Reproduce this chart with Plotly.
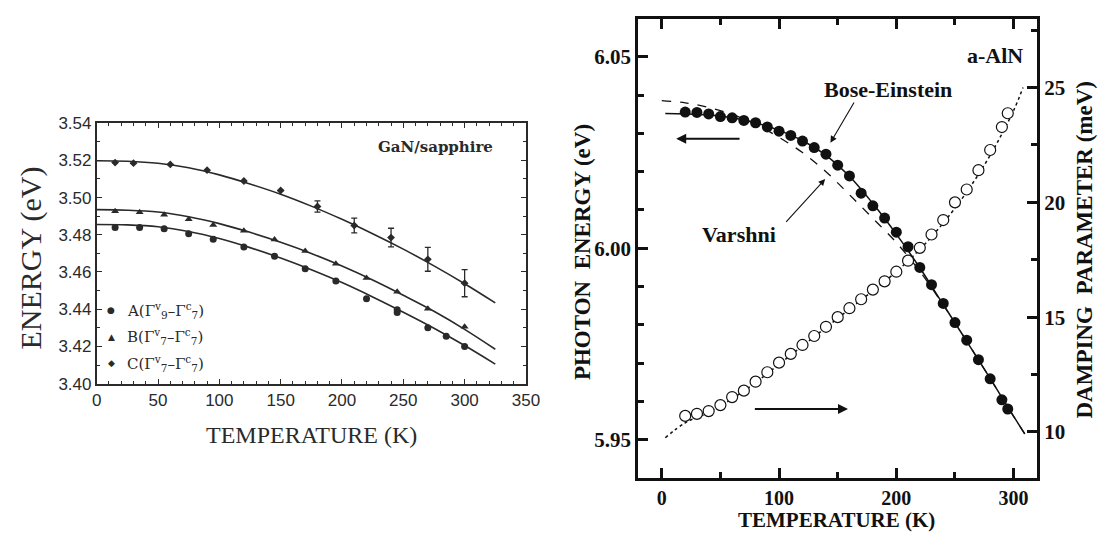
import plotly.graph_objects as go

# ---------------- GaN/sapphire exciton energies (left panel) ----------------
T_A = [15, 35, 55, 75, 95, 120, 145, 170, 195, 220, 245, 245, 270, 285, 300]
E_A = [3.4839, 3.4839, 3.4832, 3.4805, 3.4776, 3.4735, 3.4684, 3.4617, 3.4552,
       3.4456, 3.4397, 3.4382, 3.4301, 3.4255, 3.4200]

T_B = [15, 35, 55, 75, 95, 120, 145, 170, 195, 220, 245, 270, 300]
E_B = [3.4926, 3.4921, 3.4908, 3.4884, 3.4853, 3.4822, 3.4774, 3.4713, 3.4644,
       3.4568, 3.4494, 3.4402, 3.4306]

T_C = [15, 30, 60, 90, 120, 150, 180, 210, 240, 270, 300]
E_C = [3.5188, 3.5185, 3.5178, 3.5147, 3.5089, 3.5038, 3.4952, 3.4850, 3.4785,
       3.4668, 3.4540]
ERR_C = [0, 0, 0, 0, 0, 0, 0.0030, 0.0040, 0.0050, 0.0064, 0.0073]

# fitted curves
T_FIT = [0, 25, 50, 75, 100, 125, 150, 175, 200, 225, 250, 275, 300, 325]
FIT_A = [3.4855, 3.4853, 3.4843, 3.4818, 3.4780, 3.4731, 3.4675, 3.4612, 3.4543,
         3.4466, 3.4384, 3.4298, 3.4205, 3.4105]
FIT_B = [3.4935, 3.4932, 3.4922, 3.4897, 3.4860, 3.4813, 3.4760, 3.4700, 3.4632,
         3.4557, 3.4475, 3.4389, 3.4292, 3.4185]
FIT_C = [3.5198, 3.5195, 3.5184, 3.5160, 3.5122, 3.5073, 3.5018, 3.4954, 3.4883,
         3.4806, 3.4723, 3.4633, 3.4537, 3.4434]

LEGEND_LABELS = ["A(Γ<sup>v</sup><sub>9</sub>–Γ<sup>c</sup><sub>7</sub>)",
                 "B(Γ<sup>v</sup><sub>7</sub>–Γ<sup>c</sup><sub>7</sub>)",
                 "C(Γ<sup>v</sup><sub>7</sub>–Γ<sup>c</sup><sub>7</sub>)"]
LEGEND_SYMBOLS = ["●", "▲", "◆"]
LEGEND_E = [3.4395, 3.4251, 3.4109]

# ---------------- a-AlN photon energy and damping (right panel) ----------------
T_ALN = [20, 30, 40, 50, 60, 70, 80, 90, 100, 110, 120, 130, 140, 150, 160, 170,
         180, 190, 200, 210, 220, 230, 240, 250, 260, 270, 280, 290, 295]
E_ALN = [6.0356, 6.0355, 6.0351, 6.0344, 6.0341, 6.0334, 6.0328, 6.0317, 6.0306,
         6.0295, 6.0280, 6.0263, 6.0246, 6.0217, 6.0189, 6.0144, 6.0111, 6.0079,
         6.0042, 6.0004, 5.9950, 5.9905, 5.9856, 5.9806, 5.9760, 5.9709, 5.9659,
         5.9604, 5.9580]
GAMMA_ALN = [10.70, 10.79, 10.91, 11.17, 11.52, 11.80, 12.19, 12.60, 13.02, 13.40,
             13.79, 14.18, 14.58, 15.00, 15.39, 15.78, 16.20, 16.56, 16.98, 17.46,
             18.02, 18.60, 19.23, 20.00, 20.56, 21.40, 22.28, 23.28, 23.88]

T_BE = [3, 20, 40, 60, 80, 100, 120, 140, 160, 180, 200, 220, 240, 260, 280, 300, 309.5]
E_BE = [6.0352, 6.0351, 6.0348, 6.0341, 6.0328, 6.0308, 6.0281, 6.0243, 6.0188,
        6.0117, 6.0037, 5.9949, 5.9853, 5.9757, 5.9660, 5.9561, 5.9515]

T_VAR = [0, 20, 40, 60, 80, 100, 120, 140, 160, 180, 200, 220, 240, 260, 280, 300, 309.5]
E_VAR = [6.0386, 6.0380, 6.0368, 6.0350, 6.0324, 6.0290, 6.0250, 6.0200, 6.0140,
         6.0078, 6.0015, 5.9940, 5.9852, 5.9757, 5.9660, 5.9561, 5.9515]

T_GFIT = [3, 20, 40, 60, 80, 100, 120, 140, 160, 180, 200, 220, 240, 260, 280, 300, 308]
G_FIT = [9.75, 10.40, 10.85, 11.45, 12.15, 12.95, 13.75, 14.55, 15.35, 16.15,
         16.98, 17.95, 19.10, 20.45, 22.05, 24.00, 25.00]

W, H = 1113, 540
LEFT_INK = "#2a2a2a"
RIGHT_INK = "#111111"
SERIF = "Liberation Serif"


def px_x(p):
    return p / W


def px_y(p):
    return 1 - p / H


fig = go.Figure()

# ---- left panel traces ----
for t, e in ((T_FIT, FIT_A), (T_FIT, FIT_B), (T_FIT, FIT_C)):
    fig.add_trace(go.Scatter(x=t, y=e, mode="lines", line=dict(color=LEFT_INK, width=1.6, shape="spline"),
                             xaxis="x", yaxis="y", showlegend=False, hoverinfo="skip"))

fig.add_trace(go.Scatter(x=T_A, y=E_A, mode="markers", name="A",
                         marker=dict(symbol="circle", size=7, color=LEFT_INK),
                         xaxis="x", yaxis="y", showlegend=False))
fig.add_trace(go.Scatter(x=T_B, y=E_B, mode="markers", name="B",
                         marker=dict(symbol="triangle-up", size=7, color=LEFT_INK),
                         xaxis="x", yaxis="y", showlegend=False))
fig.add_trace(go.Scatter(x=T_C, y=E_C, mode="markers", name="C",
                         marker=dict(symbol="diamond", size=6, color=LEFT_INK),
                         error_y=dict(type="data", array=ERR_C, visible=True,
                                      color=LEFT_INK, thickness=1.3, width=3),
                         xaxis="x", yaxis="y", showlegend=False))

# ---- right panel traces ----
fig.add_trace(go.Scatter(x=T_GFIT, y=G_FIT, mode="lines", line=dict(color=RIGHT_INK, width=1.5, dash="dot", shape="spline"),
                         xaxis="x2", yaxis="y3", showlegend=False, hoverinfo="skip"))
fig.add_trace(go.Scatter(x=T_ALN, y=GAMMA_ALN, mode="markers",
                         marker=dict(symbol="circle", size=11, color="white", line=dict(width=1.2, color=RIGHT_INK)),
                         xaxis="x2", yaxis="y3", showlegend=False))
fig.add_trace(go.Scatter(x=T_VAR, y=E_VAR, mode="lines", line=dict(color=RIGHT_INK, width=1.3, dash="dash", shape="spline"),
                         xaxis="x2", yaxis="y2", showlegend=False, hoverinfo="skip"))
fig.add_trace(go.Scatter(x=T_BE, y=E_BE, mode="lines", line=dict(color=RIGHT_INK, width=1.5, shape="spline"),
                         xaxis="x2", yaxis="y2", showlegend=False, hoverinfo="skip"))
fig.add_trace(go.Scatter(x=T_ALN, y=E_ALN, mode="markers",
                         marker=dict(symbol="circle", size=11, color=RIGHT_INK),
                         xaxis="x2", yaxis="y2", showlegend=False))

left_tick_font = dict(family="Liberation Sans", size=17, color=LEFT_INK)
right_tick_font = dict(family=SERIF, size=21, color=RIGHT_INK, weight="bold")
bottom_tick_font = dict(family=SERIF, size=20, color=RIGHT_INK, weight="bold")

fig.update_layout(
    width=W, height=H, margin=dict(l=0, r=0, t=0, b=0),
    paper_bgcolor="white", plot_bgcolor="white", showlegend=False,
    xaxis=dict(domain=[px_x(93.3), px_x(530)], anchor="y", range=[0, 350],
               tickmode="linear", tick0=0, dtick=50, ticks="inside", ticklen=5, tickwidth=1.2,
               tickcolor=LEFT_INK, minor=dict(dtick=10, ticks="inside", ticklen=3, tickwidth=1, tickcolor=LEFT_INK),
               showline=True, linecolor=LEFT_INK, linewidth=1.6, mirror="ticks",
               showgrid=False, zeroline=False, tickfont=left_tick_font),
    yaxis=dict(domain=[px_y(388.3), px_y(118.3)], anchor="x", range=[3.40, 3.54],
               tickmode="linear", tick0=3.40, dtick=0.02, tickformat=".2f", ticks="inside", ticklen=5, tickwidth=1.2,
               tickcolor=LEFT_INK, minor=dict(dtick=0.01, ticks="inside", ticklen=3, tickwidth=1, tickcolor=LEFT_INK),
               showline=True, linecolor=LEFT_INK, linewidth=1.6, mirror="ticks",
               showgrid=False, zeroline=False, tickfont=left_tick_font),
    xaxis2=dict(domain=[px_x(644.3), px_x(1050)], anchor="y2", range=[-20, 320],
                tickmode="linear", tick0=0, dtick=100, ticks="inside", ticklen=10, tickwidth=2.5,
                tickcolor=RIGHT_INK, minor=dict(dtick=50, ticks="inside", ticklen=6, tickwidth=2.5, tickcolor=RIGHT_INK),
                showline=True, linecolor=RIGHT_INK, linewidth=3, mirror="ticks",
                showgrid=False, zeroline=False, tickfont=bottom_tick_font),
    yaxis2=dict(domain=[px_y(486), px_y(10)], anchor="x2", range=[5.94, 6.06],
                tickmode="linear", tick0=5.95, dtick=0.05, tickformat=".2f", ticks="inside", ticklen=10, tickwidth=2.5,
                tickcolor=RIGHT_INK, minor=dict(dtick=0.01, ticks="inside", ticklen=6, tickwidth=2.5, tickcolor=RIGHT_INK),
                showline=True, linecolor=RIGHT_INK, linewidth=3, mirror=False,
                showgrid=False, zeroline=False, tickfont=right_tick_font),
    yaxis3=dict(overlaying="y2", anchor="x2", side="right", range=[8, 28],
                tickmode="linear", tick0=10, dtick=5, ticks="inside", ticklen=10, tickwidth=2.5,
                tickcolor=RIGHT_INK, minor=dict(dtick=2.5, ticks="inside", ticklen=6, tickwidth=2.5, tickcolor=RIGHT_INK),
                showline=True, linecolor=RIGHT_INK, linewidth=3,
                showgrid=False, zeroline=False, tickfont=right_tick_font),
)

ann = []


def label(text, x, y, font, xref="paper", yref="paper", angle=0, xanchor="center"):
    ann.append(dict(text=text, x=x, y=y, xref=xref, yref=yref, textangle=angle, showarrow=False,
                    xanchor=xanchor, yanchor="middle", font=font))


# axis titles
label("ENERGY (eV)", px_x(26), px_y(258), dict(family=SERIF, size=30, color=LEFT_INK), angle=-90)
label("TEMPERATURE (K)", px_x(312), px_y(442), dict(family=SERIF, size=24, color=LEFT_INK))
bold_title = dict(family=SERIF, size=23, color=RIGHT_INK, weight="bold")
label("PHOTON\u00a0\u00a0ENERGY (eV)", px_x(587), px_y(252), bold_title, angle=-90)
label("DAMPING\u00a0\u00a0PARAMETER (meV)", px_x(1098), px_y(249), bold_title, angle=-90)
label("TEMPERATURE (K)", px_x(846), px_y(530), dict(family=SERIF, size=21, color=RIGHT_INK, weight="bold"))

# left panel labels
label("GaN/sapphire", 276, 3.527, dict(family="DejaVu Serif", size=15, color=LEFT_INK, weight="bold"), "x", "y")
for sym, lab, e in zip(LEGEND_SYMBOLS, LEGEND_LABELS, LEGEND_E):
    label(sym, 12, e, dict(family="DejaVu Sans", size=9, color=LEFT_INK), "x", "y")
    label(lab, 23, e, dict(family="DejaVu Serif", size=15, color=LEFT_INK), "x", "y", xanchor="left")

# right panel labels and arrows
bold_r = dict(family=SERIF, size=22, color=RIGHT_INK, weight="bold")
label("a-AlN", 284, 6.0503, bold_r, "x2", "y2")
label("Bose-Einstein", 193, 6.0415, bold_r, "x2", "y2")
label("Varshni", 66, 6.0037, bold_r, "x2", "y2")


def arrow(x, y, ax, ay, width, size):
    ann.append(dict(text="", x=x, y=y, ax=ax, ay=ay, xref="x2", yref="y2", axref="x2", ayref="y2",
                    showarrow=True, arrowhead=2, arrowsize=size, arrowwidth=width,
                    arrowcolor=RIGHT_INK, standoff=0))


arrow(143.8, 6.0276, 164.7, 6.0385, 1.1, 1.2)
arrow(139.3, 6.0181, 104.9, 6.0065, 1.1, 1.2)
arrow(12.3, 6.0286, 67.6, 6.0286, 2, 1.0)
arrow(158.8, 5.958, 78.1, 5.958, 2, 1.0)

fig.update_layout(annotations=ann)
fig.write_html("out.html")
